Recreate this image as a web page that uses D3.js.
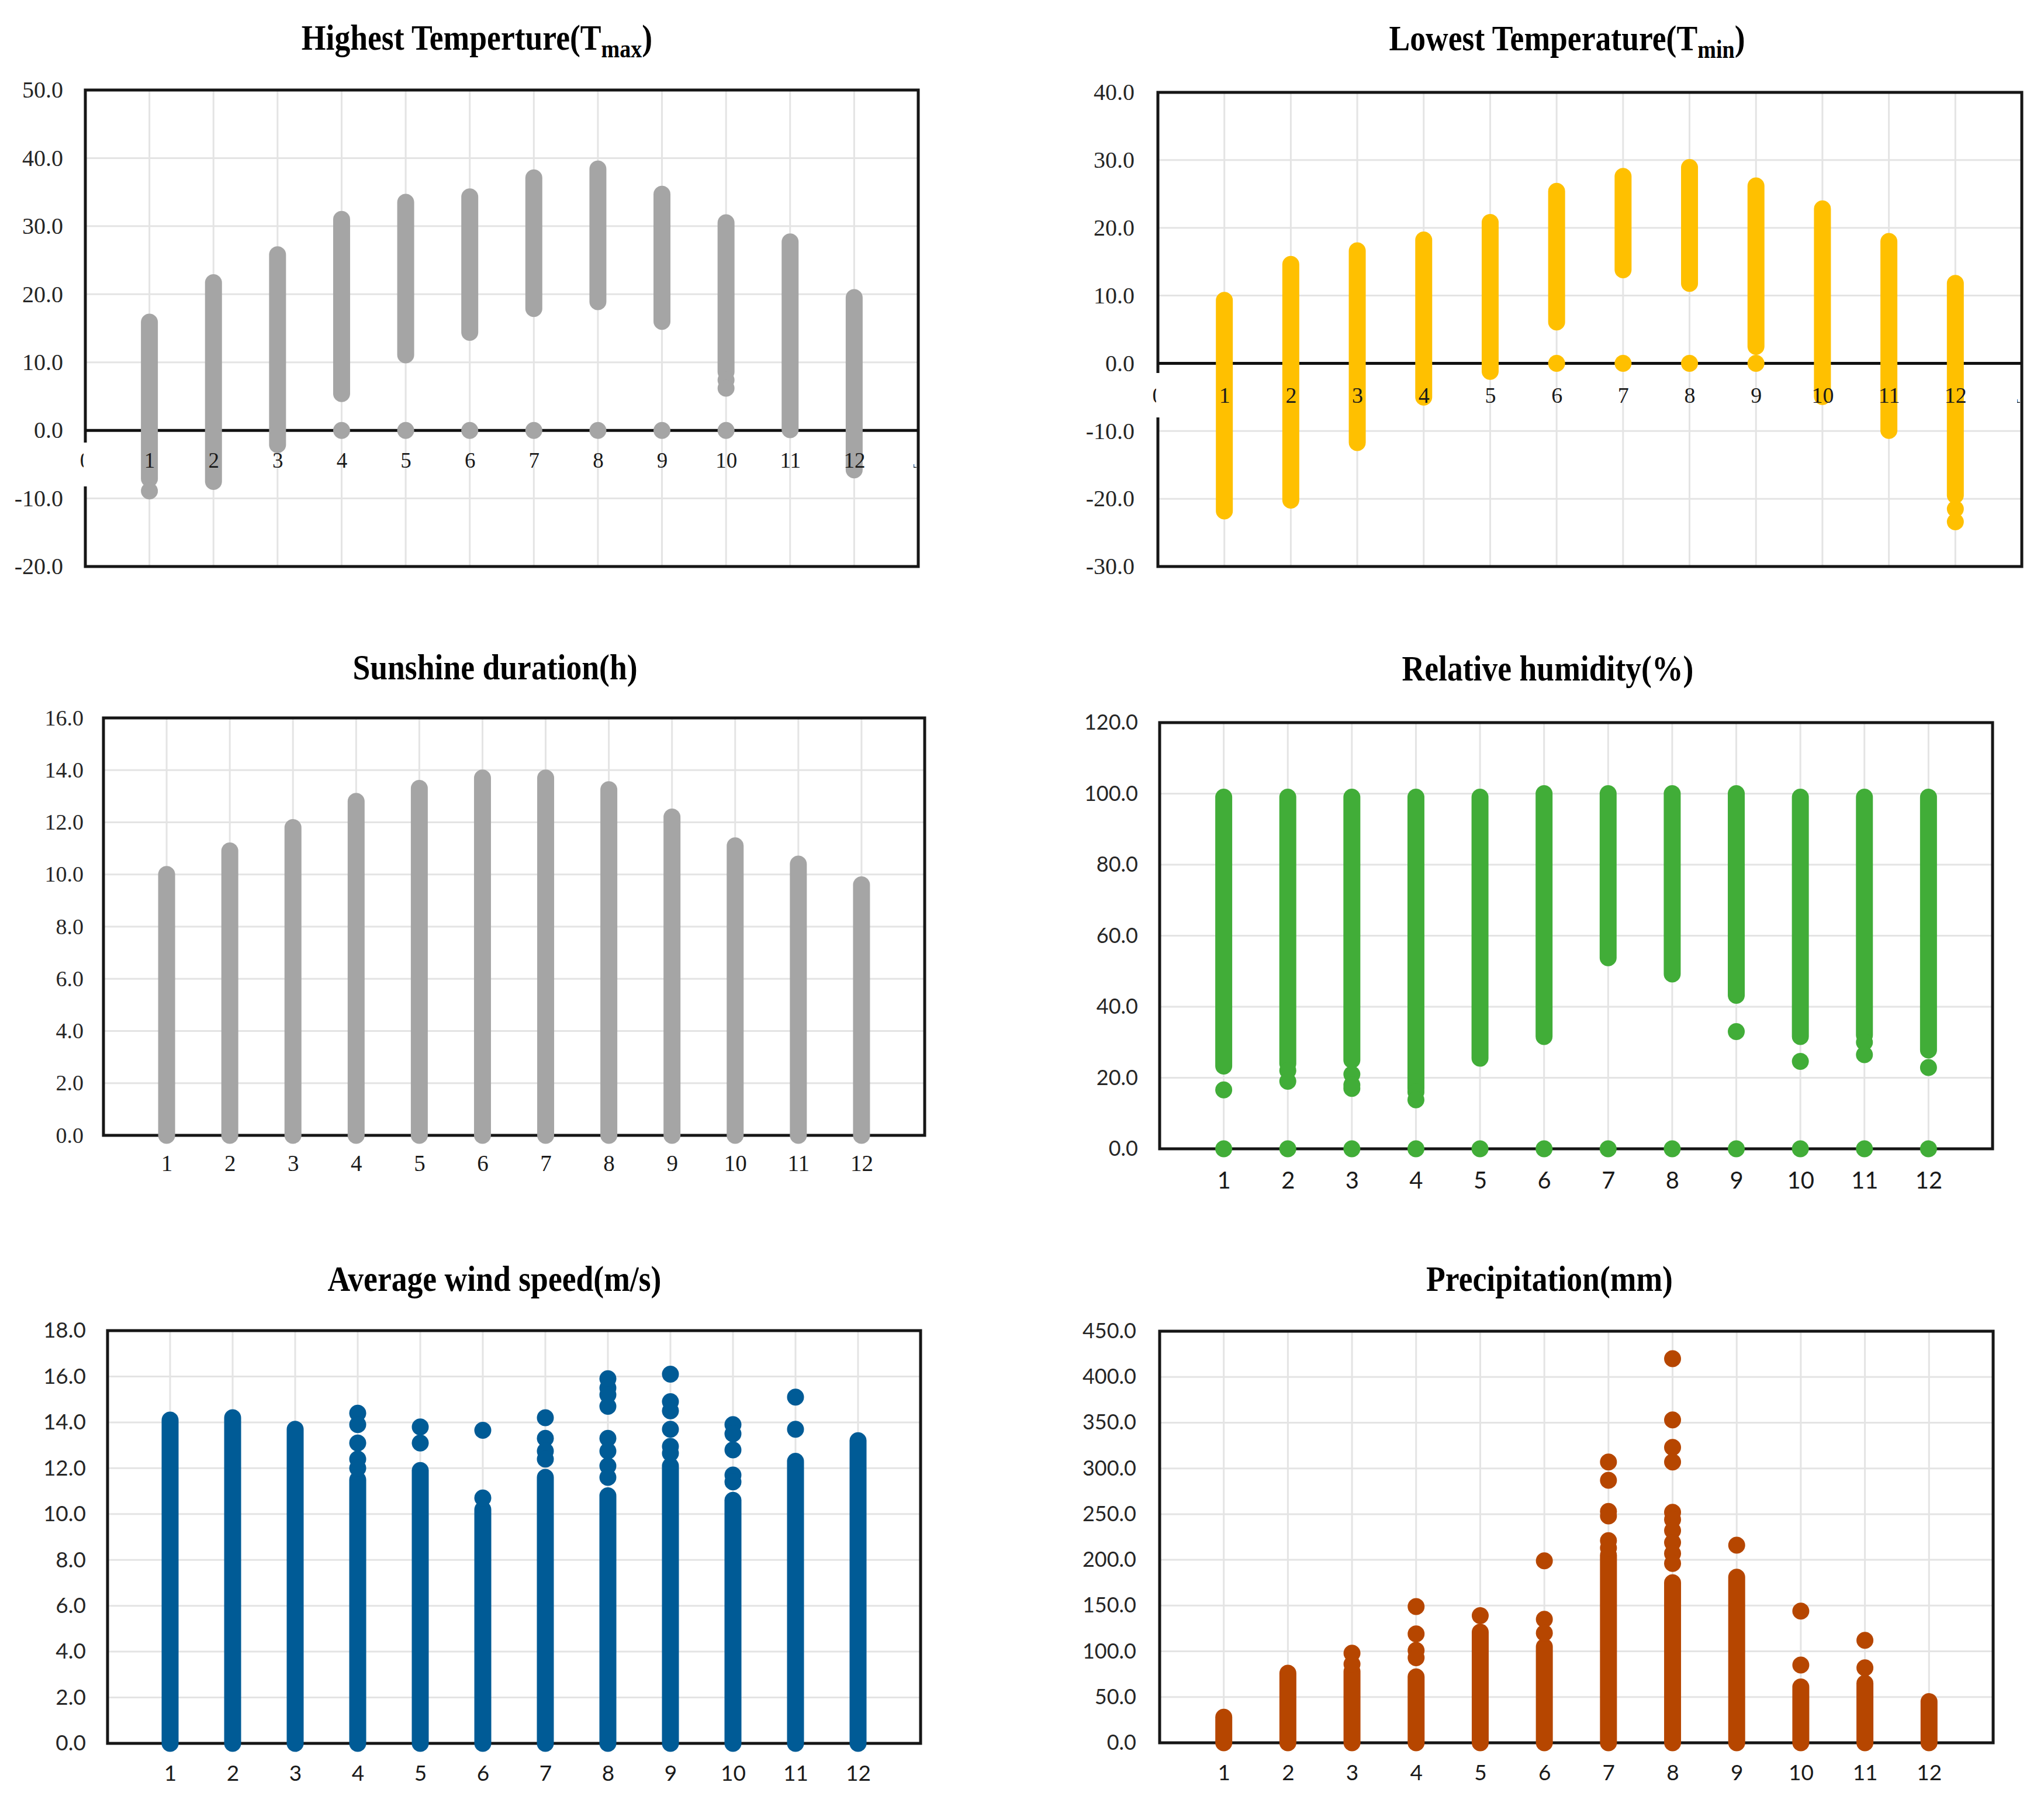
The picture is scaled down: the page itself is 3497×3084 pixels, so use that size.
<!DOCTYPE html>
<html><head><meta charset="utf-8">
<script src="https://cdn.jsdelivr.net/npm/d3@7"></script>
<style>html,body{margin:0;padding:0;background:#fff;} svg{display:block;background:#fff}</style>
</head><body>
<svg id="chart" width="3497" height="3084"></svg>
<script>
// ---------------- DATA ----------------
const months = [1,2,3,4,5,6,7,8,9,10,11,12];

// Highest temperature (Tmax): continuous range of daily values per month, plus isolated points
const tmaxTicks = [-20,-10,0,10,20,30,40,50];
const tmaxHigh = [15.9, 21.7, 25.8, 31.0, 33.5, 34.3, 37.1, 38.4, 34.7, 30.5, 27.7, 19.5];
const tmaxLow  = [-7.1, -7.5, -2.1, 5.4, 11.1, 14.4, 17.9, 18.9, 16.0, 8.6, 0.1, -5.8];
const tmaxExtra = [[1,-8.9],[4,0],[5,0],[6,0],[7,0],[8,0],[9,0],[10,0],[10,7.4],[10,6.2]];

// Lowest temperature (Tmin)
const tminTicks = [-30,-20,-10,0,10,20,30,40];
const tminHigh = [9.3, 14.6, 16.6, 18.2, 20.8, 25.4, 27.6, 28.9, 26.2, 22.8, 18.0, 11.8];
const tminLow  = [-21.8, -20.2, -11.7, -5.0, -1.2, 6.1, 13.8, 11.8, 2.5, -4.9, -9.9, -19.5];
const tminExtra = [[6,0],[7,0],[8,0],[9,0],[12,-21.5],[12,-23.4]];

// Sunshine duration (h)
const sunTicks = [0,2,4,6,8,10,12,14,16];
const sunHigh = [10.0, 10.9, 11.8, 12.8, 13.3, 13.7, 13.7, 13.25, 12.2, 11.1, 10.4, 9.6];
const sunLow  = [0,0,0,0,0,0,0,0,0,0,0,0];
const sunExtra = [];

// Relative humidity (%)
const rhTicks = [0,20,40,60,80,100,120];
const rhHigh = [99, 99, 99, 99, 99, 100, 100, 100, 100, 99, 99, 99];
const rhLow  = [23.3, 24, 25, 17, 25.5, 31.6, 53.8, 49.2, 43.2, 31.6, 32, 27.8];
const rhExtra = [[1,16.6],[2,22],[2,19],[3,21],[3,18],[3,17],[4,16],[4,13.8],[9,33],[10,24.6],[11,30],[11,26.5],[12,22.9],
  [1,0],[2,0],[3,0],[4,0],[5,0],[6,0],[7,0],[8,0],[9,0],[10,0],[11,0],[12,0]];

// Average wind speed (m/s)
const windTicks = [0,2,4,6,8,10,12,14,16,18];
const windHigh = [14.1, 14.2, 13.7, 11.5, 11.9, 10.2, 11.6, 10.8, 12.1, 10.6, 12.3, 13.2];
const windLow  = [0,0,0,0,0,0,0,0,0,0,0,0];
const windExtra = [[4,14.4],[4,13.9],[4,13.1],[4,12.4],[4,12.0],
  [5,13.8],[5,13.1],
  [6,13.65],[6,10.7],
  [7,14.2],[7,13.3],[7,12.75],[7,12.4],
  [8,15.9],[8,15.5],[8,15.2],[8,14.7],[8,13.3],[8,12.75],[8,12.1],[8,11.6],
  [9,16.1],[9,14.9],[9,14.5],[9,13.7],[9,12.95],[9,12.65],
  [10,13.9],[10,13.5],[10,12.8],[10,11.7],[10,11.4],
  [11,15.1],[11,13.7]];

// Precipitation (mm)
const precTicks = [0,50,100,150,200,250,300,350,400,450];
const precHigh = [28, 76, 78, 72, 121, 105, 205, 175, 181, 61, 65, 45];
const precLow  = [0,0,0,0,0,0,0,0,0,0,0,0];
const precExtra = [[3,98],[3,86],
  [4,149],[4,119],[4,101],[4,93],
  [5,139],
  [6,199],[6,135],[6,120],
  [7,307],[7,287],[7,253],[7,248],[7,221],[7,213],
  [8,420],[8,353],[8,323],[8,307],[8,252],[8,244],[8,232],[8,219],[8,207],[8,196],
  [9,216],
  [10,144],[10,85],
  [11,112],[11,82]];

// ---------------- DRAWING ----------------
const SERIF = "'Liberation Serif','Times New Roman',serif";
const SANS = "Lato,'Liberation Sans',sans-serif";
const svg = d3.select("#chart");
const defs = svg.append("defs");

const panels = [
  {id:"tmax", left:146, right:1571, top:154, bottom:969, ticks:tmaxTicks, high:tmaxHigh, low:tmaxLow, extra:tmaxExtra,
   color:"#a5a5a5", xBase:800, xFont:SERIF, xSize:37, yFont:SERIF, ySize:40, yPad:38,
   title:{cx:816, base:85, main:"Highest Temperture(T", sub:"max", tail:")"},
   patch:{y0:757, y1:832}},
  {id:"tmin", left:1981, right:3459, top:158, bottom:969, ticks:tminTicks, high:tminHigh, low:tminLow, extra:tminExtra,
   color:"#ffc000", xBase:689, xFont:SERIF, xSize:38, yFont:SERIF, ySize:40, yPad:40,
   title:{cx:2681, base:86, main:"Lowest Temperature(T", sub:"min", tail:")"},
   patch:{y0:638, y1:714}},
  {id:"sun", left:177, right:1582, top:1228, bottom:1942, ticks:sunTicks, high:sunHigh, low:sunLow, extra:sunExtra,
   color:"#a5a5a5", xBase:2003, xFont:SERIF, xSize:39, yFont:SERIF, ySize:38, yPad:34,
   title:{cx:847, base:1162, main:"Sunshine duration(h)"}},
  {id:"rh", left:1984, right:3409, top:1236, bottom:1965, ticks:rhTicks, high:rhHigh, low:rhLow, extra:rhExtra,
   color:"#41ad38", xBase:2033, xFont:SANS, xSize:40, yFont:SANS, ySize:36, yPad:37,
   title:{cx:2648, base:1164, main:"Relative humidity(%)"}},
  {id:"wind", left:184, right:1575, top:2276, bottom:2982, ticks:windTicks, high:windHigh, low:windLow, extra:windExtra,
   color:"#005b96", xBase:3046, xFont:SANS, xSize:37, yFont:SANS, ySize:37, yPad:37,
   title:{cx:846, base:2208, main:"Average wind speed(m/s)"}},
  {id:"prec", left:1984, right:3410, top:2277, bottom:2981, ticks:precTicks, high:precHigh, low:precLow, extra:precExtra,
   color:"#b64600", xBase:3045, xFont:SANS, xSize:37, yFont:SANS, ySize:36, yPad:40,
   title:{cx:2651, base:2208, main:"Precipitation(mm)"}}
];

const R = 14.5;

panels.forEach(p => {
  const g = svg.append("g").attr("class", "panel-" + p.id);
  const x = d3.scaleLinear().domain([0, 13]).range([p.left, p.right]);
  const y = d3.scaleLinear().domain([p.ticks[0], p.ticks[p.ticks.length - 1]]).range([p.bottom, p.top]);

  // gridlines
  g.append("g").selectAll("line").data(p.ticks).join("line")
    .attr("x1", p.left).attr("x2", p.right).attr("y1", d => y(d)).attr("y2", d => y(d))
    .attr("stroke", "#e4e4e4").attr("stroke-width", 3);
  g.append("g").selectAll("line").data(months).join("line")
    .attr("x1", d => x(d)).attr("x2", d => x(d)).attr("y1", p.top).attr("y2", p.bottom)
    .attr("stroke", "#e4e4e4").attr("stroke-width", 3);

  // frame
  g.append("rect").attr("x", p.left).attr("y", p.top)
    .attr("width", p.right - p.left).attr("height", p.bottom - p.top)
    .attr("fill", "none").attr("stroke", "#161616").attr("stroke-width", 5);

  // zero line
  if (p.ticks[0] < 0) {
    g.append("line").attr("x1", p.left).attr("x2", p.right).attr("y1", y(0)).attr("y2", y(0))
      .attr("stroke", "#111").attr("stroke-width", 5);
  }

  // dense point columns (drawn as round-capped strokes)
  g.append("g").selectAll("line").data(months).join("line")
    .attr("x1", d => x(d)).attr("x2", d => x(d))
    .attr("y1", (d, i) => y(p.high[i])).attr("y2", (d, i) => y(p.low[i]))
    .attr("stroke", p.color).attr("stroke-width", 2 * R).attr("stroke-linecap", "round");
  // isolated points
  g.append("g").selectAll("circle").data(p.extra).join("circle")
    .attr("cx", d => x(d[0])).attr("cy", d => y(d[1])).attr("r", R).attr("fill", p.color);

  // y axis labels
  const ya = g.append("g").attr("transform", `translate(${p.left},0)`)
    .call(d3.axisLeft(y).tickValues(p.ticks).tickSize(0).tickPadding(p.yPad).tickFormat(d => d.toFixed(1)));
  ya.select(".domain").remove();
  ya.selectAll("text").attr("font-family", p.yFont).attr("font-size", p.ySize).attr("fill", "#262626");

  // x axis labels
  const xa = g.append("g").attr("transform", `translate(0,${p.xBase})`)
    .call(d3.axisBottom(x).tickValues(months).tickSize(0).tickFormat(d => String(d)));
  xa.select(".domain").remove();
  xa.selectAll("text").attr("y", 0).attr("dy", 0)
    .attr("font-family", p.xFont).attr("font-size", p.xSize).attr("fill", "#1a1a1a");

  // cut-off edge labels and white patch (as in the original figure)
  if (p.patch) {
    const cl = defs.append("clipPath").attr("id", "clipL-" + p.id);
    cl.append("rect").attr("x", p.left - 20).attr("y", p.xBase - 40).attr("width", 17).attr("height", 60);
    g.append("text").attr("x", x(0)).attr("y", p.xBase).attr("text-anchor", "middle")
      .attr("font-family", p.xFont).attr("font-size", p.xSize).attr("fill", "#1a1a1a")
      .attr("clip-path", `url(#clipL-${p.id})`).text("0");
    const cr = defs.append("clipPath").attr("id", "clipR-" + p.id);
    cr.append("rect").attr("x", p.right - 8).attr("y", p.xBase - 6).attr("width", 5).attr("height", 8);
    g.append("text").attr("x", x(13)).attr("y", p.xBase).attr("text-anchor", "middle")
      .attr("font-family", p.xFont).attr("font-size", p.xSize).attr("fill", "#1a1a1a")
      .attr("clip-path", `url(#clipR-${p.id})`).text("13");
    g.append("rect").attr("x", p.left - 3).attr("y", p.patch.y0).attr("width", 18)
      .attr("height", p.patch.y1 - p.patch.y0).attr("fill", "#fff");
  }

  // title
  const tg = g.append("g").attr("transform", `translate(${p.title.cx},${p.title.base}) scale(0.865,1)`);
  const t = tg.append("text").attr("text-anchor", "middle")
    .attr("font-family", SERIF).attr("font-weight", "bold").attr("font-size", 62).attr("fill", "#000");
  t.append("tspan").text(p.title.main);
  if (p.title.sub) {
    t.append("tspan").attr("font-size", 44).attr("dy", 13).text(p.title.sub);
    t.append("tspan").attr("dy", -13).text(p.title.tail);
  }
});
</script>
</body></html>
